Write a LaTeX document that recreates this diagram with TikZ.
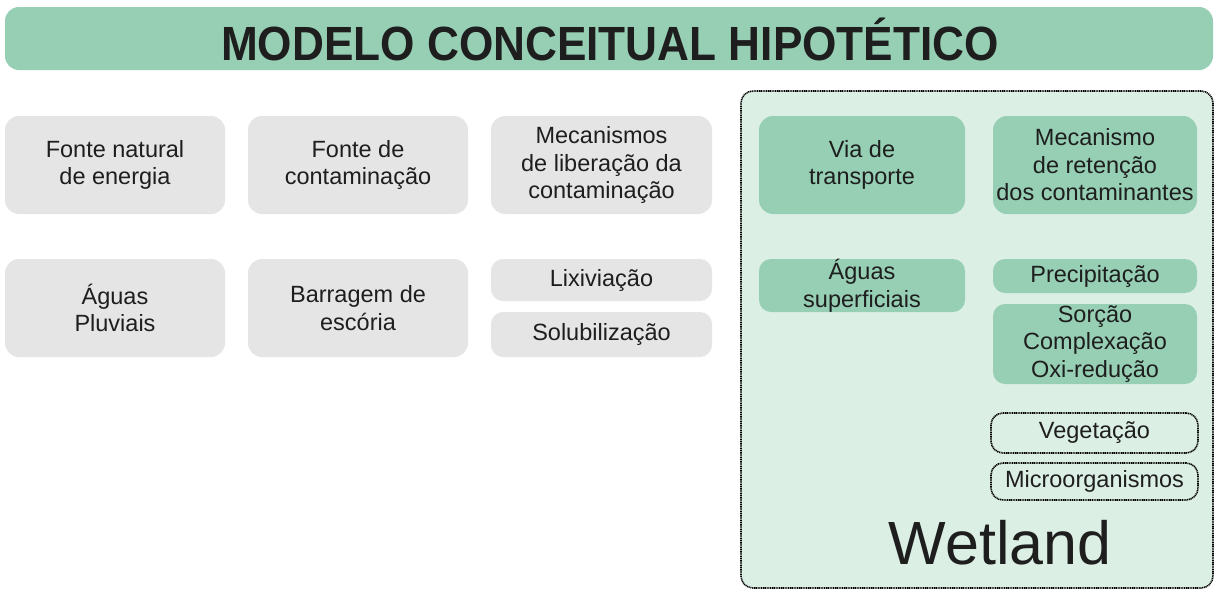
\documentclass[tikz,border=0pt]{standalone}
\usepackage{fontspec}
\setmainfont{Liberation Sans}
\definecolor{tgreen}{HTML}{96CFB4}
\definecolor{lgreen}{HTML}{DCEFE5}
\definecolor{bgray}{HTML}{E5E5E5}
\definecolor{txt}{HTML}{1E1E1E}
\tikzset{
  box/.style={rounded corners=14pt, inner sep=0pt, align=center, text=txt,
    font=\fontsize{23.5}{27.5}\selectfont},
  graybox/.style={box, fill=bgray},
  greenbox/.style={box, fill=tgreen},
  dotbox/.style={box, draw=black, line width=1.6pt, dash pattern=on 1.1pt off 0.7pt, fill=lgreen},
}
\begin{document}
\begin{tikzpicture}[x=1pt,y=-1pt]
\useasboundingbox (0,0) rectangle (1218,592);
\fill[white] (0,0) rectangle (1218,592);
\node[box, fill=tgreen, minimum width=1208pt, minimum height=63pt] (titlebox) at (609,38.5) {};
\node[text=txt, inner sep=0pt, font=\fontsize{48}{50}\selectfont\bfseries, xscale=0.92] (title) at (610,39) {MODELO CONCEITUAL HIPOT\'ETICO};
% left gray boxes
\node[graybox, minimum width=220pt, minimum height=98pt] (fne) at (115,165) {Fonte natural\\de energia};
\node[graybox, minimum width=220pt, minimum height=98pt] (fc) at (358,165) {Fonte de\\contamina\c{c}\~ao};
\node[graybox, minimum width=221pt, minimum height=98pt] (mlc) at (601.5,165) {Mecanismos\\de libera\c{c}\~ao da\\contamina\c{c}\~ao};
\node[graybox, minimum width=220pt, minimum height=98pt] (ap) at (115,308) {\'Aguas\\Pluviais};
\node[graybox, minimum width=220pt, minimum height=98pt] (be) at (358,308) {Barragem de\\esc\'oria};
\node[graybox, minimum width=221pt, minimum height=42pt, rounded corners=12pt] (lix) at (601.5,280) {Lixivia\c{c}\~ao};
\node[graybox, minimum width=221pt, minimum height=45pt, rounded corners=12pt] (sol) at (601.5,334.5) {Solubiliza\c{c}\~ao};
% wetland container
\node[dotbox, rounded corners=12pt, minimum width=472pt, minimum height=497pt] (wet) at (977,339.5) {};
\node[greenbox, minimum width=206pt, minimum height=98pt] (via) at (862,165) {Via de\\transporte};
\node[greenbox, minimum width=204pt, minimum height=98pt] (mec) at (1095,165) {Mecanismo\\de reten\c{c}\~ao\\dos contaminantes};
\node[greenbox, minimum width=206pt, minimum height=53pt, rounded corners=12pt] (as) at (862,285.5) {\'Aguas\\superficiais};
\node[greenbox, minimum width=204pt, minimum height=34pt, rounded corners=12pt] (pre) at (1095,276) {Precipita\c{c}\~ao};
\node[greenbox, minimum width=204pt, minimum height=80pt, rounded corners=12pt] (sor) at (1095,344) {Sor\c{c}\~ao\\Complexa\c{c}\~ao\\Oxi-redu\c{c}\~ao};
\node[dotbox, minimum width=207pt, minimum height=40pt, rounded corners=12pt] (veg) at (1094.5,433) {Vegeta\c{c}\~ao};
\node[dotbox, minimum width=207pt, minimum height=37pt, rounded corners=12pt] (mic) at (1094.5,481.5) {Microorganismos};
\node[text=txt, inner sep=0pt, font=\fontsize{61}{63}\selectfont] (wl) at (1000,543) {Wetland};
\end{tikzpicture}
\end{document}
